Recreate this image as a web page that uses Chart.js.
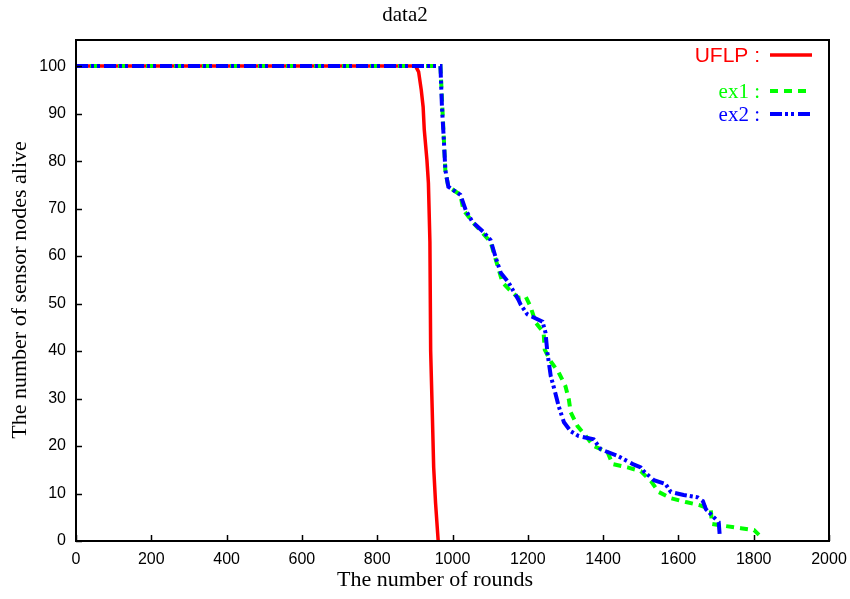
<!DOCTYPE html>
<html>
<head>
<meta charset="utf-8">
<title>data2</title>
<script src="https://cdn.jsdelivr.net/npm/chart.js@4.4.1/dist/chart.umd.min.js"></script>
<style>
  html, body { margin: 0; padding: 0; background: #ffffff; }
  #wrap { width: 850px; height: 599px; position: relative; }
</style>
</head>
<body>
<div id="wrap"><canvas id="lifetime-chart"></canvas></div>
<script>
// Données
const uflpRounds = [0, 902, 910, 917, 922, 925, 932, 936, 940, 942, 946, 950, 955, 962];
const uflpAlive  = [100, 100, 98.8, 95, 91.4, 86.6, 80.3, 75.4, 63, 40, 28, 15.5, 8, 0];

const ex1Rounds = [0, 968, 975, 981, 984, 989, 1021, 1029, 1053, 1078, 1101, 1114, 1133, 1150, 1175, 1194, 1207,
  1221, 1242, 1245, 1261, 1282, 1300, 1309, 1314, 1332, 1354, 1375, 1412, 1425, 1465, 1500, 1527, 1548,
  1580, 1620, 1654, 1686, 1689, 1721, 1766, 1801, 1814];
const ex1Alive = [100, 100, 88, 78, 76.7, 74.6, 72.9, 69.7, 67.2, 65, 63, 59.5, 54.4, 53, 51.2, 51.5, 49.4,
  46, 43.9, 40.3, 37.8, 35.5, 32.6, 29.8, 27.1, 24.2, 22.1, 20, 18.7, 16.2, 15.5, 14.7, 12.6, 10.3,
  9, 8.2, 7.6, 6.7, 3.6, 3.2, 2.7, 2.3, 1.3];

const ex2Rounds = [0, 968, 972, 977, 981, 984, 989, 1021, 1035, 1053, 1083, 1101, 1114, 1128, 1149, 1175, 1181,
  1199, 1239, 1247, 1252, 1261, 1269, 1282, 1296, 1314, 1335, 1375, 1394, 1439, 1479, 1500, 1508, 1535,
  1566, 1580, 1614, 1651, 1665, 1673, 1694, 1707, 1710];
const ex2Alive = [100, 100, 91.4, 84.5, 78.2, 76.7, 74.6, 72.9, 69.7, 67.2, 65, 63.4, 59.9, 56.5, 54.4, 50.8, 49.8,
  47.7, 46.2, 43.9, 39.7, 34.7, 32.4, 28.4, 25, 23.1, 22.1, 21.4, 19.3, 17.9, 16.2, 15.5, 14.7, 12.8,
  12, 10.3, 9.7, 9.2, 8.4, 6.7, 5, 4, 1];

const xTicks = [0, 200, 400, 600, 800, 1000, 1200, 1400, 1600, 1800, 2000];
const yTicks = [0, 10, 20, 30, 40, 50, 60, 70, 80, 90, 100];

const seriesNames = ['UFLP', 'ex1', 'ex2'];

function toPoints(xs, ys) {
  return xs.map((x, i) => ({ x: x, y: ys[i] }));
}

const SERIF = '"Liberation Serif", "DejaVu Serif", serif';
const SANS = '"Liberation Sans", Arial, sans-serif';

// Cadre, graduations intérieures, titres et légende dessinés à la main (style gnuplot)
const gnuplotDecor = {
  id: 'gnuplotDecor',
  afterDatasetsDraw(chart) {
    const ctx = chart.ctx;
    const area = chart.chartArea;
    const xs = chart.scales.x;
    const ys = chart.scales.y;

    ctx.save();
    ctx.strokeStyle = '#000000';
    ctx.lineWidth = 1.5;
    xTicks.forEach(v => {
      const px = Math.round(xs.getPixelForValue(v)) + 0.5;
      ctx.beginPath();
      ctx.moveTo(px, area.bottom);
      ctx.lineTo(px, area.bottom - 6);
      ctx.stroke();
    });
    yTicks.forEach(v => {
      const py = Math.round(ys.getPixelForValue(v)) + 0.5;
      ctx.beginPath();
      ctx.moveTo(area.left, py);
      ctx.lineTo(area.left + 6, py);
      ctx.stroke();
    });
    ctx.lineWidth = 2;
    ctx.strokeRect(area.left, area.top, area.right - area.left, area.bottom - area.top);

    // Titres
    ctx.fillStyle = '#000000';
    ctx.textAlign = 'center';
    ctx.textBaseline = 'middle';
    ctx.font = '21px ' + SERIF;
    ctx.fillText('data2', 405, 15);
    ctx.font = '22px ' + SERIF;
    ctx.fillText('The number of rounds', 435, 580);
    ctx.save();
    ctx.translate(20, 290);
    ctx.rotate(-Math.PI / 2);
    ctx.fillText('The number of sensor nodes alive', 0, 0);
    ctx.restore();

    // Légende
    const entries = chart.data.datasets;
    const rows = [56, 92, 115];
    const fonts = ['21px ' + SANS, '21px ' + SERIF, '21px ' + SERIF];
    ctx.textAlign = 'right';
    entries.forEach((ds, i) => {
      ctx.font = fonts[i];
      ctx.fillStyle = ds.borderColor;
      ctx.fillText(seriesNames[i] + ' :', 760, rows[i]);
      ctx.strokeStyle = ds.borderColor;
      ctx.lineWidth = ds.borderWidth;
      ctx.setLineDash(ds.borderDash || []);
      ctx.beginPath();
      ctx.moveTo(770, rows[i] - 1);
      ctx.lineTo(812, rows[i] - 1);
      ctx.stroke();
      ctx.setLineDash([]);
    });
    ctx.restore();
  }
};

function initializeLifetimeChart(chartId) {
  const canvas = document.getElementById(chartId);
  if (!canvas) return;
  const ctx = canvas.getContext('2d');

  const chart = new Chart(ctx, {
    type: 'scatter',
    data: {
      datasets: [{
        label: seriesNames[0],
        data: toPoints(uflpRounds, uflpAlive),
        borderColor: '#ff0000',
        borderWidth: 3.5,
        showLine: true,
        pointRadius: 0,
        tension: 0,
        order: 2
      }, {
        label: seriesNames[1],
        data: toPoints(ex1Rounds, ex1Alive),
        borderColor: '#00ff00',
        borderWidth: 4,
        borderDash: [8, 6],
        showLine: true,
        pointRadius: 0,
        tension: 0,
        order: 1
      }, {
        label: seriesNames[2],
        data: toPoints(ex2Rounds, ex2Alive),
        borderColor: '#0000ff',
        borderWidth: 4,
        borderDash: [12, 3, 3, 3, 3, 4],
        showLine: true,
        pointRadius: 0,
        tension: 0,
        order: 0
      }]
    },
    options: {
      responsive: false,
      animation: false,
      layout: { padding: { top: 40, right: 21, left: 0, bottom: 0 } },
      plugins: {
        legend: { display: false },
        tooltip: { enabled: false },
        title: { display: false }
      },
      scales: {
        x: {
          type: 'linear',
          min: 0,
          max: 2000,
          afterFit: scale => {
            scale.height = 58;
            scale.paddingLeft = 0;
            scale.paddingRight = 0;
          },
          afterBuildTicks: scale => { scale.ticks = xTicks.map(v => ({ value: v })); },
          grid: { display: false, drawTicks: false },
          border: { display: false },
          ticks: {
            padding: 9,
            color: '#000000',
            font: { family: SANS, size: 16 },
            callback: value => String(value)
          }
        },
        y: {
          type: 'linear',
          min: 0,
          max: 105.5,
          afterFit: scale => {
            scale.width = 76;
            scale.paddingTop = 0;
            scale.paddingBottom = 0;
          },
          afterBuildTicks: scale => { scale.ticks = yTicks.map(v => ({ value: v })); },
          grid: { display: false, drawTicks: false },
          border: { display: false },
          ticks: {
            padding: 10,
            color: '#000000',
            font: { family: SANS, size: 16 },
            callback: value => String(value)
          }
        }
      }
    },
    plugins: [gnuplotDecor]
  });

  canvas.chart = chart;
  return chart;
}

const cv = document.getElementById('lifetime-chart');
cv.width = 850;
cv.height = 599;
initializeLifetimeChart('lifetime-chart');
</script>
</body>
</html>
